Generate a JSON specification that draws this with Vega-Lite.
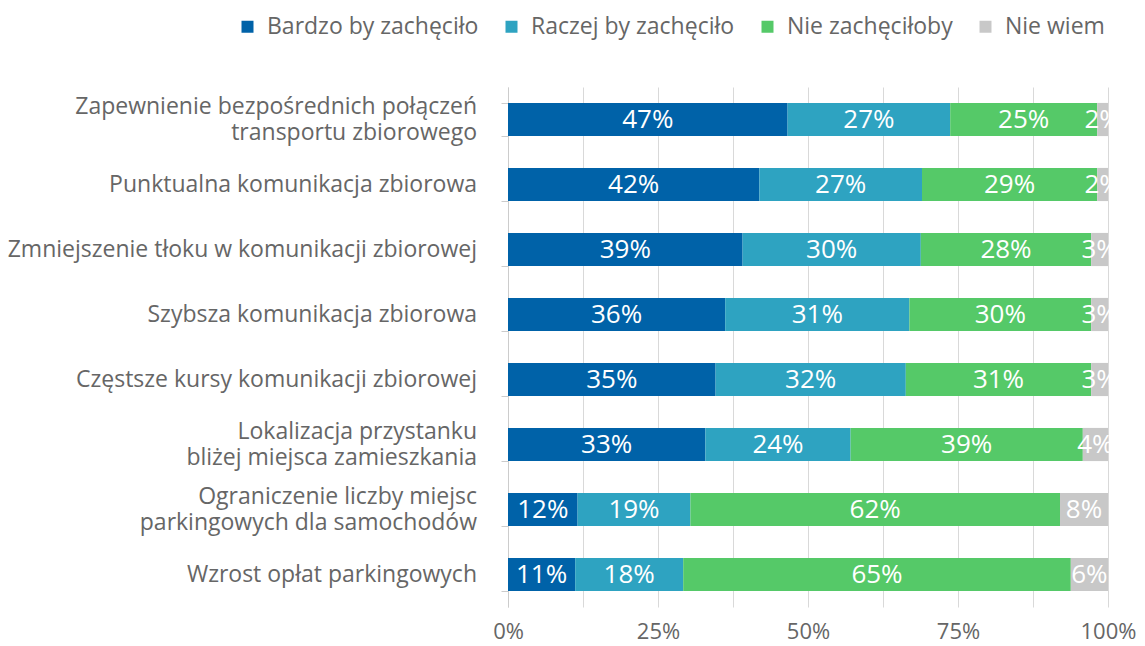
{
  "$schema": "https://vega.github.io/schema/vega-lite/v6.json",
  "autosize": {"type": "none"},
  "padding": {"left": 508, "top": 87, "right": 37, "bottom": 39},
  "width": 600,
  "height": 520,
  "background": "white",
  "config": {
    "view": {"stroke": null},
    "font": "Open Sans"
  },
  "data": {
    "values": [
      {"q": "Zapewnienie bezpośrednich połączeń|transportu zbiorowego", "r": "Bardzo by zachęciło", "k": 1, "v": 0.466},
      {"q": "Zapewnienie bezpośrednich połączeń|transportu zbiorowego", "r": "Raczej by zachęciło", "k": 2, "v": 0.271},
      {"q": "Zapewnienie bezpośrednich połączeń|transportu zbiorowego", "r": "Nie zachęciłoby", "k": 3, "v": 0.245},
      {"q": "Zapewnienie bezpośrednich połączeń|transportu zbiorowego", "r": "Nie wiem", "k": 4, "v": 0.018},
      {"q": "Punktualna komunikacja zbiorowa", "r": "Bardzo by zachęciło", "k": 1, "v": 0.419},
      {"q": "Punktualna komunikacja zbiorowa", "r": "Raczej by zachęciło", "k": 2, "v": 0.271},
      {"q": "Punktualna komunikacja zbiorowa", "r": "Nie zachęciłoby", "k": 3, "v": 0.292},
      {"q": "Punktualna komunikacja zbiorowa", "r": "Nie wiem", "k": 4, "v": 0.018},
      {"q": "Zmniejszenie tłoku w komunikacji zbiorowej", "r": "Bardzo by zachęciło", "k": 1, "v": 0.391},
      {"q": "Zmniejszenie tłoku w komunikacji zbiorowej", "r": "Raczej by zachęciło", "k": 2, "v": 0.297},
      {"q": "Zmniejszenie tłoku w komunikacji zbiorowej", "r": "Nie zachęciłoby", "k": 3, "v": 0.284},
      {"q": "Zmniejszenie tłoku w komunikacji zbiorowej", "r": "Nie wiem", "k": 4, "v": 0.028},
      {"q": "Szybsza komunikacja zbiorowa", "r": "Bardzo by zachęciło", "k": 1, "v": 0.362},
      {"q": "Szybsza komunikacja zbiorowa", "r": "Raczej by zachęciło", "k": 2, "v": 0.307},
      {"q": "Szybsza komunikacja zbiorowa", "r": "Nie zachęciłoby", "k": 3, "v": 0.303},
      {"q": "Szybsza komunikacja zbiorowa", "r": "Nie wiem", "k": 4, "v": 0.028},
      {"q": "Częstsze kursy komunikacji zbiorowej", "r": "Bardzo by zachęciło", "k": 1, "v": 0.346},
      {"q": "Częstsze kursy komunikacji zbiorowej", "r": "Raczej by zachęciło", "k": 2, "v": 0.317},
      {"q": "Częstsze kursy komunikacji zbiorowej", "r": "Nie zachęciłoby", "k": 3, "v": 0.309},
      {"q": "Częstsze kursy komunikacji zbiorowej", "r": "Nie wiem", "k": 4, "v": 0.028},
      {"q": "Lokalizacja przystanku|bliżej miejsca zamieszkania", "r": "Bardzo by zachęciło", "k": 1, "v": 0.329},
      {"q": "Lokalizacja przystanku|bliżej miejsca zamieszkania", "r": "Raczej by zachęciło", "k": 2, "v": 0.242},
      {"q": "Lokalizacja przystanku|bliżej miejsca zamieszkania", "r": "Nie zachęciłoby", "k": 3, "v": 0.387},
      {"q": "Lokalizacja przystanku|bliżej miejsca zamieszkania", "r": "Nie wiem", "k": 4, "v": 0.042},
      {"q": "Ograniczenie liczby miejsc|parkingowych dla samochodów", "r": "Bardzo by zachęciło", "k": 1, "v": 0.116},
      {"q": "Ograniczenie liczby miejsc|parkingowych dla samochodów", "r": "Raczej by zachęciło", "k": 2, "v": 0.188},
      {"q": "Ograniczenie liczby miejsc|parkingowych dla samochodów", "r": "Nie zachęciłoby", "k": 3, "v": 0.616},
      {"q": "Ograniczenie liczby miejsc|parkingowych dla samochodów", "r": "Nie wiem", "k": 4, "v": 0.080},
      {"q": "Wzrost opłat parkingowych", "r": "Bardzo by zachęciło", "k": 1, "v": 0.112},
      {"q": "Wzrost opłat parkingowych", "r": "Raczej by zachęciło", "k": 2, "v": 0.180},
      {"q": "Wzrost opłat parkingowych", "r": "Nie zachęciłoby", "k": 3, "v": 0.646},
      {"q": "Wzrost opłat parkingowych", "r": "Nie wiem", "k": 4, "v": 0.062}
    ]
  },
  "transform": [
    {"stack": "v", "groupby": ["q"], "sort": [{"field": "k", "order": "ascending"}], "offset": "normalize", "as": ["v0", "v1"]},
    {"calculate": "(datum.v0 + datum.v1) / 2", "as": "vmid"},
    {"calculate": "split(datum.q, '|')", "as": "lines"}
  ],
  "encoding": {
    "y": {
      "field": "q",
      "type": "nominal",
      "sort": null,
      "scale": {"paddingInner": 0.49, "paddingOuter": 0.245},
      "axis": {
        "title": null,
        "labels": false,
        "tickSize": 7,
        "tickColor": "#cccccc",
        "tickBand": "extent",
        "domainColor": "#cccccc",
        "grid": false
      }
    }
  },
  "layer": [
    {
      "mark": {"type": "bar"},
      "encoding": {
        "x": {
          "field": "v0",
          "type": "quantitative",
          "scale": {"domain": [0, 1], "nice": false},
          "axis": {
            "title": null,
            "values": [0, 0.125, 0.25, 0.375, 0.5, 0.625, 0.75, 0.875, 1],
            "labelExpr": "(datum.value * 4) % 1 == 0 ? format(datum.value, '.0%') : ''",
            "labelFontSize": 22,
            "labelColor": "#666666",
            "labelPadding": 14,
            "labelFlush": false,
            "ticks": false,
            "domain": false,
            "grid": true,
            "gridColor": "#d9d9d9",
            "gridWidth": 1
          }
        },
        "x2": {"field": "v1"},
        "color": {
          "field": "r",
          "type": "nominal",
          "scale": {
            "domain": ["Bardzo by zachęciło", "Raczej by zachęciło", "Nie zachęciłoby", "Nie wiem"],
            "range": ["#0062a8", "#2ea3c1", "#55c968", "#c8c8c8"]
          },
          "legend": {
            "title": null,
            "orient": "none",
            "legendX": -272,
            "legendY": -72,
            "direction": "horizontal",
            "symbolType": "square",
            "symbolSize": 144,
            "symbolStrokeWidth": 0,
            "labelFontSize": 23,
            "labelColor": "#666666",
            "labelOffset": 8,
            "columnPadding": 21,
            "padding": 0,
            "labelLimit": 400
          }
        }
      }
    },
    {
      "mark": {"type": "text", "color": "white", "fontSize": 26, "align": "center", "baseline": "middle"},
      "encoding": {
        "x": {"field": "vmid", "type": "quantitative"},
        "text": {"field": "v", "type": "quantitative", "format": ".0%"}
      }
    },
    {
      "transform": [{"filter": "datum.k == 1"}],
      "mark": {
        "type": "text",
        "color": "#666666",
        "fontSize": 23,
        "align": "right",
        "baseline": "middle",
        "lineHeight": 26,
        "dx": -31,
        "dy": {"expr": "length(datum.lines) > 1 ? -13 : 0"}
      },
      "encoding": {
        "x": {"datum": 0, "type": "quantitative"},
        "text": {"field": "lines"}
      }
    }
  ]
}
